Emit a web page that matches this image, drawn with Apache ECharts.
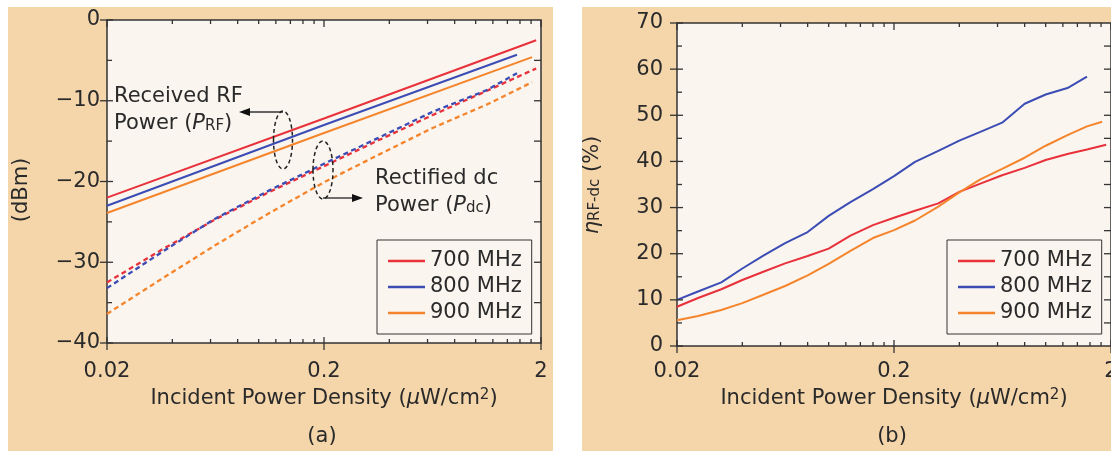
<!DOCTYPE html>
<html>
<head>
<meta charset="utf-8">
<script src="https://cdn.jsdelivr.net/npm/echarts@6/dist/echarts.min.js"></script>
<style>
  html, body { margin: 0; padding: 0; background: #fff; }
  #main { width: 1111px; height: 451px; }
</style>
</head>
<body>
<div id="main"></div>
<script>
  // (a) received RF power and rectified dc power, dBm
  const rfX700 = [0.02, 0.2, 1.9], rf700 = [-22.0, -12.2, -2.5]
  const rfX800 = [0.02, 0.2, 1.55], rf800 = [-23.0, -13.0, -4.3]
  const rfX900 = [0.02, 0.2, 1.82], rf900 = [-23.9, -14.0, -4.6]
  const dcX = [0.02, 0.036, 0.063, 0.112, 0.2, 0.356, 0.63, 1.12]
  const dcX700 = dcX.concat([1.9])
  const dcX800 = dcX.concat([1.55])
  const dcX900 = dcX.concat([1.82])
  const dc700 = [-32.5, -28.4, -24.7, -21.3, -18.1, -14.9, -11.8, -8.8, -6.0]
  const dc800 = [-33.2, -28.7, -24.6, -21.1, -17.8, -14.6, -11.4, -8.7, -6.6]
  const dc900 = [-36.4, -32.0, -27.9, -23.9, -20.1, -16.7, -13.4, -10.5, -7.7]

  // (b) RF-dc efficiency, %
  const effX = [0.02, 0.025, 0.032, 0.04, 0.05, 0.063, 0.08, 0.1, 0.126, 0.16, 0.2,
    0.25, 0.32, 0.4, 0.5, 0.63, 0.8, 1.0, 1.26, 1.55]
  const effX700 = effX.concat([1.9])
  const effX900 = effX.concat([1.82])
  const eff700 = [8.5, 10.4, 12.3, 14.3, 16.1, 17.9, 19.5, 21.1, 23.9, 26.2, 27.8,
    29.3, 30.9, 33.4, 35.2, 37.0, 38.6, 40.3, 41.6, 42.6, 43.6]
  const eff800 = [10.0, 11.8, 13.8, 16.8, 19.6, 22.3, 24.7, 28.2, 31.2, 34.0, 36.8,
    39.9, 42.3, 44.5, 46.4, 48.4, 52.5, 54.5, 55.9, 58.4]
  const eff900 = [5.6, 6.5, 7.8, 9.3, 11.1, 13.0, 15.3, 17.8, 20.6, 23.4, 25.1,
    27.2, 30.2, 33.3, 36.1, 38.4, 40.8, 43.4, 45.7, 47.6, 48.6]

  const names = ['700 MHz', '800 MHz', '900 MHz']
  const xTickLabels = [0.02, 0.2, 2]
  const xMinorSteps = [2, 3, 4, 5, 6, 7, 8, 9]

  const FONT = 'DejaVu Sans'
  const INK = '#2a2a2a'
  const PANEL = '#f5d6ab'
  const PLOT = '#fbf5ef'
  const RED = '#e8313a', BLUE = '#3b4db5', ORANGE = '#f5852c'

  const chart = echarts.init(document.getElementById('main'), null, { renderer: 'canvas' })
  const zip = (xs, ys) => xs.map((x, i) => [x, ys[i]])

  function lineSeries(name, gi, data, color, dashed) {
    return {
      name,
      type: 'line',
      xAxisIndex: gi,
      yAxisIndex: gi,
      data,
      symbol: 'none',
      showSymbol: false,
      z: 3,
      itemStyle: { color },
      lineStyle: { color, width: dashed ? 2.3 : 2, type: dashed ? [5, 3.5] : 'solid' },
    }
  }

  const minusFmt = (v) => (v < 0 ? '\u2212' + Math.abs(v) : String(v))

  const xAxisBase = (gi) => ({
    type: 'log', logBase: 10, gridIndex: gi, min: 0.02, max: 2,
    axisLine: { show: false }, axisTick: { show: false },
    axisLabel: { show: false }, splitLine: { show: false },
  })

  const legendBase = (left) => ({
    left, top: 240, orient: 'vertical', data: names, selectedMode: false,
    icon: 'rect', itemWidth: 37, itemHeight: 2.5, itemGap: 2,
    padding: [9, 10, 9, 11],
    borderColor: '#333', borderWidth: 1, backgroundColor: PLOT,
    textStyle: { fontFamily: FONT, fontSize: 21, color: INK, lineHeight: 24 },
  })

  chart.setOption({
    animation: false,
    backgroundColor: '#fff',
    grid: [
      { left: 107, top: 20, width: 434, height: 323, show: true, backgroundColor: PLOT, borderColor: '#333', borderWidth: 1.5 },
      { left: 677, top: 23, width: 434, height: 323, show: true, backgroundColor: PLOT, borderColor: '#333', borderWidth: 1.5 },
    ],
    xAxis: [xAxisBase(0), xAxisBase(1)],
    yAxis: [
      {
        type: 'value', gridIndex: 0, min: -40, max: 0, interval: 10,
        axisLine: { show: false }, axisTick: { show: false }, splitLine: { show: false },
        axisLabel: { margin: 7, fontFamily: FONT, fontSize: 21, color: INK, formatter: minusFmt },
      },
      {
        type: 'value', gridIndex: 1, min: 0, max: 70, interval: 10,
        axisLine: { show: false }, axisTick: { show: false }, splitLine: { show: false },
        axisLabel: { margin: 14, fontFamily: FONT, fontSize: 21, color: INK },
      },
    ],
    legend: [legendBase(377), legendBase(947)],
    series: [
      lineSeries(names[0], 0, zip(rfX700, rf700), RED, false),
      lineSeries(names[1], 0, zip(rfX800, rf800), BLUE, false),
      lineSeries(names[2], 0, zip(rfX900, rf900), ORANGE, false),
      lineSeries(names[0], 0, zip(dcX700, dc700), RED, true),
      lineSeries(names[1], 0, zip(dcX800, dc800), BLUE, true),
      lineSeries(names[2], 0, zip(dcX900, dc900), ORANGE, true),
      lineSeries(names[0], 1, zip(effX700, eff700), RED, false),
      lineSeries(names[1], 1, zip(effX, eff800), BLUE, false),
      lineSeries(names[2], 1, zip(effX900, eff900), ORANGE, false),
    ],
  })

  // 刻度线、刻度标签和注释都用 graphic 画，位置由坐标系换算
  function seg(x1, y1, x2, y2, w) {
    return {
      type: 'line', z: 50, silent: true,
      shape: { x1, y1, x2, y2 },
      style: { stroke: '#333', lineWidth: w || 1.3 },
    }
  }

  function txt(x, y, text, opts) {
    opts = opts || {}
    return {
      type: 'text', z: 60, silent: true, x, y,
      rotation: opts.rotation || 0,
      style: {
        text, rich: opts.rich,
        fontFamily: FONT, fontSize: opts.fontSize || 21, fill: INK,
        align: opts.align || 'center', verticalAlign: 'middle',
        textAlign: opts.align || 'center', textVerticalAlign: 'middle',
      },
    }
  }

  const richBase = {
    t: { fontFamily: FONT, fontSize: 21, fill: INK, lineHeight: 24, verticalAlign: 'top' },
    i: { fontFamily: FONT, fontSize: 21, fill: INK, lineHeight: 24, verticalAlign: 'top', fontStyle: 'italic' },
    s: { fontFamily: FONT, fontSize: 15, fill: INK, lineHeight: 24, verticalAlign: 'top', padding: [6, 0, 0, 0] },
    p: { fontFamily: FONT, fontSize: 15, fill: INK, lineHeight: 16, verticalAlign: 'top' },
  }

  function panelTicks(gi, yMin, yMax, yMajor) {
    const els = []
    const [xl, yb] = chart.convertToPixel({ gridIndex: gi }, [0.02, yMin])
    const [xr, yt] = chart.convertToPixel({ gridIndex: gi }, [2, yMax])
    for (let v = yMin; v <= yMax; v += 5) {
      const y = chart.convertToPixel({ gridIndex: gi }, [0.02, v])[1]
      if (v % yMajor === 0) els.push(seg(xl - 7, y, xl + 6, y))
      else els.push(seg(xl, y, xl + 5, y))
      if (v !== yMin && v !== yMax) els.push(seg(xr - 7, y, xr, y))
    }
    xTickLabels.forEach((t, k) => {
      const x = chart.convertToPixel({ gridIndex: gi }, [t, yMin])[0]
      els.push(seg(x, yb + 7, x, yb - 6))
      els.push(seg(x, yt, x, yt + 7))
      els.push(txt(x, 372, String(t)))
      if (k < xTickLabels.length - 1) {
        xMinorSteps.forEach((m) => {
          const xm = chart.convertToPixel({ gridIndex: gi }, [t * m, yMin])[0]
          els.push(seg(xm, yb, xm, yb - 4))
          els.push(seg(xm, yt, xm, yt + 4))
        })
      }
    })
    return els
  }

  function arrow(x1, y, x2) {
    const dir = x2 > x1 ? 1 : -1
    return [
      seg(x1, y, x2 - dir * 8, y, 1.4),
      {
        type: 'polygon', z: 60, silent: true,
        shape: { points: [[x2, y], [x2 - dir * 11, y - 4], [x2 - dir * 11, y + 4]] },
        style: { fill: '#111' },
      },
    ]
  }

  function ring(cx, cy, rx, ry) {
    return {
      type: 'ellipse', z: 60, silent: true,
      shape: { cx, cy, rx, ry },
      style: { fill: null, stroke: '#222', lineWidth: 1.5, lineDash: [4, 3] },
    }
  }

  const xTitle = '{t|Incident Power Density (}{i|\u03bc}{t|W/cm}{p|2}{t|)}'

  const graphics = [
    { type: 'rect', z: -10, silent: true, shape: { x: 8, y: 7, width: 545, height: 444 }, style: { fill: PANEL } },
    { type: 'rect', z: -10, silent: true, shape: { x: 582, y: 7, width: 529, height: 444 }, style: { fill: PANEL } },
  ]
    .concat(panelTicks(0, -40, 0, 10))
    .concat(panelTicks(1, 0, 70, 10))
    .concat([
      txt(22, 190, '(dBm)', { rotation: Math.PI / 2 }),
      txt(594, 185, '{i|\u03b7}{s|RF-dc}{t| (%)}', { rotation: Math.PI / 2, rich: richBase }),
      txt(324, 400, xTitle, { rich: richBase }),
      txt(894, 400, xTitle, { rich: richBase }),
      txt(322, 437, '(a)'),
      txt(892, 437, '(b)'),
      // 注释
      txt(114, 97, 'Received RF', { align: 'left' }),
      txt(114, 125, '{t|Power (}{i|P}{s|RF}{t|)}', { align: 'left', rich: richBase }),
      txt(375, 179, 'Rectified dc', { align: 'left' }),
      txt(375, 207, '{t|Power (}{i|P}{s|dc}{t|)}', { align: 'left', rich: richBase }),
      ring(283, 140, 9.5, 29),
      ring(323, 170, 10, 29),
    ])
    .concat(arrow(283, 112, 239))
    .concat(arrow(323, 198, 363))

  chart.setOption({ graphic: graphics })
</script>
</body>
</html>
